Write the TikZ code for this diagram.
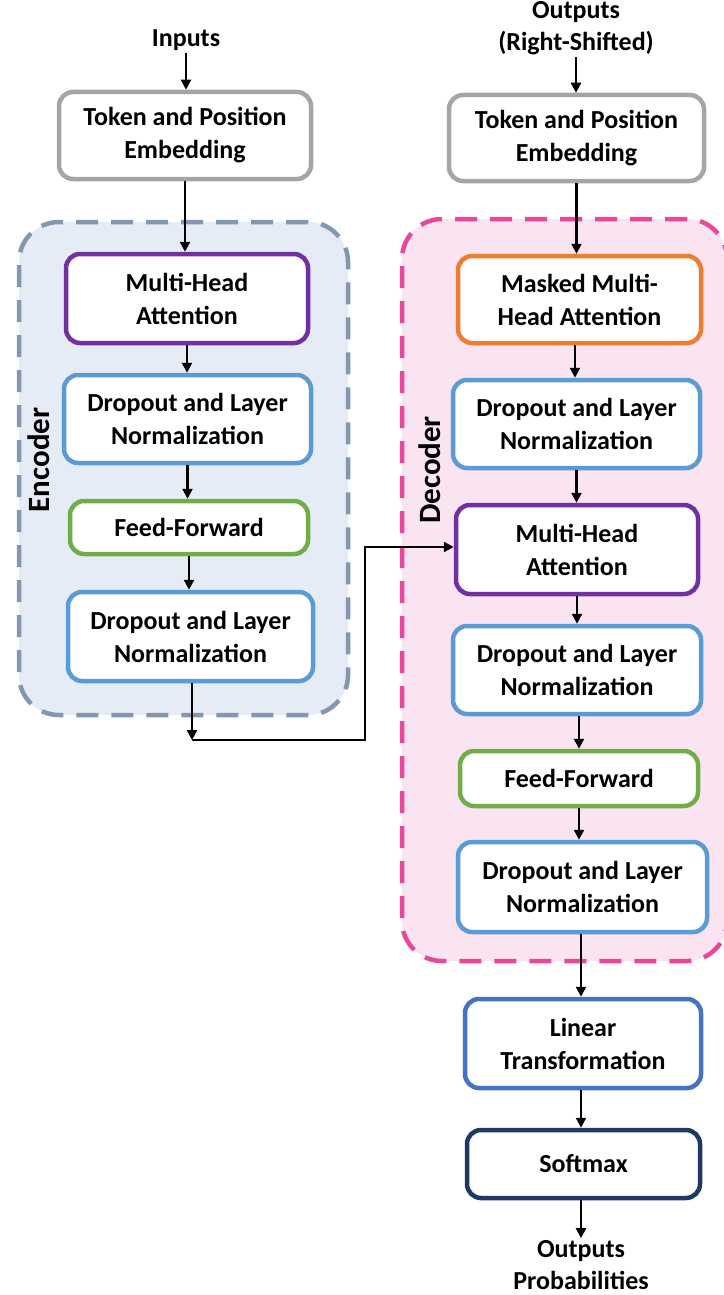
\documentclass[tikz,border=0pt]{standalone}
\usepackage{fontspec}
\setmainfont{Carlito}
\usetikzlibrary{arrows.meta}
\definecolor{cgray}{HTML}{A5A5A5}
\definecolor{cpurple}{HTML}{7030A0}
\definecolor{cblue}{HTML}{5B9BD5}
\definecolor{cgreen}{HTML}{70AD47}
\definecolor{corange}{HTML}{ED7D31}
\definecolor{clinear}{HTML}{4472C4}
\definecolor{cnavy}{HTML}{1F3864}
\definecolor{encfill}{HTML}{E5ECF6}
\definecolor{encdash}{HTML}{8497B0}
\definecolor{decfill}{HTML}{FBE4F2}
\definecolor{decdash}{HTML}{E8479A}
\tikzset{
  box/.style={draw, line width=4.5pt, rounded corners=14pt, fill=white, align=center,
    inner sep=0pt, font=\fontsize{26}{33}\selectfont\bfseries},
  lbl/.style={align=center, inner sep=2pt, font=\fontsize{26}{32}\selectfont\bfseries},
  arr/.style={line width=2.3pt, -{Triangle[length=10pt,width=10pt]}},
  contbox/.style={line width=4.5pt, rounded corners=40pt, dash pattern=on 22pt off 13pt, inner sep=0pt},
  sidelbl/.style={rotate=90, inner sep=0pt, font=\fontsize{31}{36}\selectfont\bfseries}
}
\begin{document}
\begin{tikzpicture}[x=1pt,y=-1pt]
\useasboundingbox (0,0) rectangle (723,1295);
% containers
\node[contbox, draw=encdash, fill=encfill, minimum width=329pt, minimum height=493pt] (enc) at (183.5,468.5) {};
\node[contbox, draw=decdash, fill=decfill, minimum width=325pt, minimum height=742pt] (dec) at (564.5,590) {};
\node[sidelbl] (enclbl) at (39,460) {Encoder};
\node[sidelbl] (declbl) at (430,470) {Decoder};
% encoder side
\node[lbl] (in) at (186,40) {Inputs};
\node[box, draw=cgray, minimum width=252pt, minimum height=87pt] (tokL) at (185,135.5) {Token and Position\\Embedding};
\node[box, draw=cpurple, minimum width=242pt, minimum height=89pt] (mhaL) at (187,298.5) {Multi-Head\\Attention};
\node[box, draw=cblue, minimum width=247pt, minimum height=88pt] (dL1) at (187.5,419) {Dropout and Layer\\Normalization};
\node[box, draw=cgreen, minimum width=238pt, minimum height=53pt] (ffL) at (189,527.5) {Feed-Forward};
\node[box, draw=cblue, minimum width=245pt, minimum height=89pt] (dL2) at (190.5,636.5) {Dropout and Layer\\Normalization};
% decoder side
\node[lbl] (out) at (576,28) {Outputs\\(Right-Shifted)};
\node[box, draw=cgray, minimum width=255pt, minimum height=86pt] (tokR) at (576.5,138) {Token and Position\\Embedding};
\node[box, draw=corange, minimum width=243pt, minimum height=87pt] (mmha) at (579.5,299.5) {Masked Multi-\\Head Attention};
\node[box, draw=cblue, minimum width=247pt, minimum height=88pt] (dR1) at (576.5,424) {Dropout and Layer\\Normalization};
\node[box, draw=cpurple, minimum width=242pt, minimum height=89pt] (mhaD) at (577,549.5) {Multi-Head\\Attention};
\node[box, draw=cblue, minimum width=248pt, minimum height=88pt] (dR2) at (577,670) {Dropout and Layer\\Normalization};
\node[box, draw=cgreen, minimum width=238pt, minimum height=55pt] (ffR) at (579,778.5) {Feed-Forward};
\node[box, draw=cblue, minimum width=249pt, minimum height=90pt] (dR3) at (582.5,887) {Dropout and Layer\\Normalization};
\node[box, draw=clinear, minimum width=236pt, minimum height=89pt] (lin) at (583,1043.5) {Linear\\Transformation};
\node[box, draw=cnavy, minimum width=233pt, minimum height=68pt] (soft) at (583.5,1164) {Softmax};
\node[lbl] (prob) at (581,1265) {Outputs\\Probabilities};
% connectors encoder
\draw[arr] (in.south) -- (in.south |- tokL.north);
\draw[arr] (tokL.south) -- (tokL.south |- mhaL.north);
\draw[arr] (mhaL.south) -- (mhaL.south |- dL1.north);
\draw[arr] (dL1.south) -- (dL1.south |- ffL.north);
\draw[arr] (ffL.south) -- (ffL.south |- dL2.north);
\coordinate (c1) at (192,740);
\coordinate (c2) at (365,547);
\draw[arr] (dL2.south -| c1) -- (c1);
\draw[arr] (c1) -- (c1 -| c2) -- (c2) -- (mhaD.west |- c2);
% connectors decoder
\draw[arr] (out.south) -- (out.south |- tokR.north);
\draw[arr] (tokR.south) -- (tokR.south |- mmha.north);
\draw[arr] (mmha.south -| 575,0) -- (575,0 |- dR1.north);
\draw[arr] (dR1.south) -- (dR1.south |- mhaD.north);
\draw[arr] (mhaD.south) -- (mhaD.south |- dR2.north);
\draw[arr] (579,0 |- dR2.south) -- (579,0 |- ffR.north);
\draw[arr] (ffR.south) -- (ffR.south |- dR3.north);
\draw[arr] (581,0 |- dR3.south) -- (581,0 |- lin.north);
\draw[arr] (581,0 |- lin.south) -- (581,0 |- soft.north);
\draw[arr] (581,0 |- soft.south) -- (581,0 |- prob.north);
\end{tikzpicture}
\end{document}
